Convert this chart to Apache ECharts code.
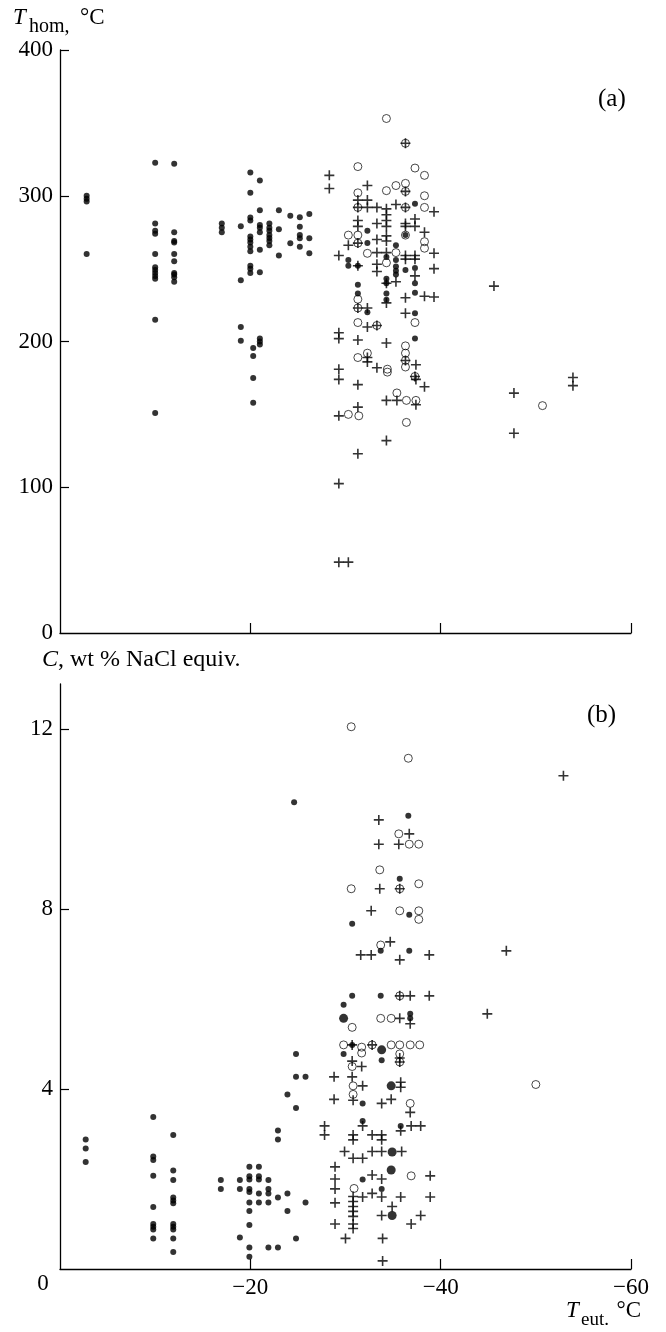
<!DOCTYPE html>
<html>
<head>
<meta charset="utf-8">
<script src="https://cdn.jsdelivr.net/npm/echarts@6/dist/echarts.min.js"></script>
<style>
  html, body { margin: 0; padding: 0; background: #fff; }
  #chart { width: 666px; height: 1332px; }
</style>
</head>
<body>
<div id="chart"></div>
<script>
// panel (a): homogenization temperature vs eutectic temperature
const aDots = [
  [-2.8, 300], [-2.8, 298], [-2.8, 296], [-2.8, 260],
  [-10, 322.6], [-10, 281], [-10, 276], [-10, 274], [-10, 260], [-10, 251], [-10, 249], [-10, 247], [-10, 245], [-10, 243], [-10, 215], [-10, 151],
  [-12, 322], [-12, 275], [-12, 269], [-12, 268], [-12, 260], [-12, 255], [-12, 247], [-12, 246], [-12, 244], [-12, 241],
  [-17, 281], [-17, 278], [-17, 275],
  [-19, 279], [-19, 242], [-19, 210], [-19, 200.5],
  [-20, 316], [-20, 302], [-20, 285], [-20, 283], [-20, 272], [-20, 270], [-20, 268], [-20, 265], [-20, 262], [-20, 252], [-20, 250], [-20, 247],
  [-20.3, 195.5], [-20.3, 190], [-20.3, 175], [-20.3, 158],
  [-21, 310.5], [-21, 290], [-21, 280], [-21, 278], [-21, 275], [-21, 263], [-21, 247.5], [-21, 202], [-21, 200], [-21, 198],
  [-22, 281], [-22, 278], [-22, 276], [-22, 273], [-22, 271], [-22, 269], [-22, 266],
  [-23, 290], [-23, 277], [-23, 259],
  [-24.2, 286.3], [-24.2, 267.4],
  [-25.2, 285.2], [-25.2, 278.8], [-25.2, 273], [-25.2, 270.8], [-25.2, 265],
  [-26.2, 287.5], [-26.2, 270.8], [-26.2, 260.5],
  [-37.3, 294.5], [-32.3, 276], [-32.3, 267.5], [-35.3, 266], [-34.3, 258], [-35.3, 256], [-30.3, 256], [-30.3, 252],
  [-31.3, 252], [-35.3, 251.5], [-35.3, 248.5], [-35.3, 246], [-36.3, 249], [-37.3, 250.5], [-31.3, 239], [-34.3, 243],
  [-37.3, 240], [-31.3, 233], [-34.3, 233], [-37.3, 233.5], [-34.3, 240], [-34.3, 228.6], [-32.3, 220], [-37.3, 219.4],
  [-37.3, 202], [-36.3, 273]
];
const aCircles = [
  [-34.3, 353], [-31.3, 320], [-37.3, 319], [-38.3, 314], [-35.3, 307], [-36.3, 308.5], [-34.3, 303.5], [-31.3, 302],
  [-38.3, 300], [-38.3, 292], [-30.3, 273], [-31.3, 273], [-36.3, 273], [-38.3, 268.5], [-38.3, 264], [-32.3, 260.5],
  [-35.3, 261], [-34.3, 254],
  [-36.3, 336], [-36.3, 303], [-31.3, 292], [-36.3, 292], [-31.3, 267.5],
  [-31.3, 229], [-31.3, 223], [-31.3, 213], [-33.3, 211], [-37.3, 213], [-36.3, 197], [-36.3, 192], [-32.3, 192],
  [-31.3, 189], [-36.3, 187], [-36.3, 182.5], [-34.4, 181], [-34.4, 179], [-37.3, 176], [-35.4, 164.7], [-36.4, 159.6],
  [-37.4, 159.6], [-30.3, 150], [-31.4, 149], [-36.4, 144.5],
  [-50.7, 156]
];
const aPluses = [
  [-36.3, 336], [-36.3, 303], [-31.3, 292], [-36.3, 292], [-31.3, 267.5],
  [-28.3, 314], [-28.3, 305], [-32.3, 307], [-31.3, 297], [-32.3, 297], [-32.3, 292], [-33.3, 292], [-34.3, 291],
  [-35.3, 294], [-39.3, 289], [-34.3, 287], [-34.3, 283], [-34.3, 279], [-31.3, 283], [-31.3, 279], [-33.3, 281],
  [-36.3, 281], [-36.3, 279], [-37.3, 284], [-37.3, 279], [-38.3, 275], [-30.3, 266], [-33.3, 270], [-34.3, 272.5],
  [-34.3, 269], [-33.3, 261], [-34.3, 261], [-36.3, 259], [-36.3, 256.5], [-37.3, 259], [-37.3, 256.5], [-29.3, 259],
  [-39.3, 260.5], [-31.3, 252], [-33.3, 253], [-33.3, 248], [-37.3, 245], [-39.3, 250], [-35.3, 241], [-34.3, 240],
  [-36.3, 230], [-38.3, 231], [-39.3, 230.5],
  [-34.3, 226.5], [-31.3, 223], [-32.3, 223], [-36.3, 219.4], [-32.3, 210], [-33.3, 211], [-29.3, 206], [-29.3, 202],
  [-31.3, 201], [-34.3, 199], [-32.3, 189], [-32.3, 186], [-36.3, 187], [-37.4, 184], [-33.3, 182], [-29.3, 181],
  [-29.3, 174], [-31.3, 170.4], [-37.3, 176], [-37.4, 174], [-38.3, 169], [-34.3, 159.6], [-35.4, 159.6], [-37.4, 156.6],
  [-31.3, 155], [-29.3, 149], [-34.3, 132], [-31.3, 123], [-29.3, 102.5], [-29.3, 48.6], [-30.3, 48.6],
  [-45.6, 238], [-47.7, 164.6], [-47.7, 137], [-53.9, 175.3], [-53.9, 169.7]
];

// panel (b): salinity vs eutectic temperature
const bDots = [
  [-2.7, 2.88], [-2.7, 2.68], [-2.7, 2.38],
  [-9.8, 3.38], [-9.8, 2.5], [-9.8, 2.42], [-9.8, 2.07], [-9.8, 1.38], [-9.8, 1.0], [-9.8, 0.94], [-9.8, 0.88], [-9.8, 0.68],
  [-11.9, 2.98], [-11.9, 2.19], [-11.9, 1.98], [-11.9, 1.59], [-11.9, 1.52], [-11.9, 1.46], [-11.9, 1.0], [-11.9, 0.94],
  [-11.9, 0.88], [-11.9, 0.68], [-11.9, 0.38],
  [-16.9, 1.98], [-16.9, 1.78],
  [-18.9, 1.98], [-18.9, 1.78], [-18.9, 0.7],
  [-19.9, 2.27], [-19.9, 2.06], [-19.9, 1.99], [-19.9, 1.78], [-19.9, 1.71], [-19.9, 1.48], [-19.9, 1.29], [-19.9, 0.98],
  [-19.9, 0.48], [-19.9, 0.27],
  [-20.9, 2.27], [-20.9, 2.06], [-20.9, 1.99], [-20.9, 1.68], [-20.9, 1.48],
  [-21.9, 1.98], [-21.9, 1.78], [-21.9, 1.68], [-21.9, 1.48], [-21.9, 0.48],
  [-22.9, 3.08], [-22.9, 2.88], [-22.9, 1.59], [-22.9, 0.48],
  [-23.9, 3.88], [-23.9, 1.68], [-23.9, 1.29],
  [-24.8, 4.78], [-24.8, 4.27], [-24.8, 3.58], [-24.8, 0.68], [-24.6, 10.37],
  [-25.8, 4.27], [-25.8, 1.48],
  [-36.6, 10.07], [-35.7, 8.67], [-36.7, 7.87], [-30.7, 7.67], [-33.7, 7.07], [-36.7, 7.07], [-30.7, 6.07], [-33.7, 6.07],
  [-29.8, 5.87], [-36.8, 5.67], [-36.8, 5.57], [-29.8, 4.78], [-33.8, 4.64], [-31.8, 3.68], [-31.8, 3.29], [-35.8, 3.18],
  [-31.8, 1.99], [-33.8, 1.78], [-30.7, 4.98]
];
const bBigDots = [
  [-29.8, 5.57], [-33.8, 4.87], [-34.8, 4.07], [-34.9, 2.6], [-34.8, 2.2], [-34.9, 1.19]
];
const bCircles = [
  [-30.6, 12.05], [-36.6, 11.35], [-35.6, 9.67], [-36.7, 9.44], [-37.7, 9.44], [-33.6, 8.87], [-35.7, 8.45], [-30.6, 8.45],
  [-37.7, 8.56], [-35.7, 7.96], [-37.7, 7.96], [-37.7, 7.77], [-33.7, 7.2], [-35.7, 6.07], [-30.7, 5.37], [-33.7, 5.57],
  [-34.8, 5.57], [-29.8, 4.98], [-31.7, 4.93], [-31.7, 4.8], [-32.8, 4.98], [-34.8, 4.98], [-35.7, 4.98], [-36.8, 4.98],
  [-37.8, 4.98], [-35.7, 4.78], [-35.7, 4.6], [-30.7, 4.5], [-30.8, 4.07], [-30.8, 3.88], [-36.8, 3.68], [-36.9, 2.07],
  [-30.9, 1.79], [-50, 4.1]
];
const bPluses = [
  [-52.9, 10.96], [-33.5, 9.98], [-36.7, 9.67], [-33.5, 9.44], [-35.6, 9.44], [-33.6, 8.45], [-35.7, 8.45], [-32.7, 7.96],
  [-34.7, 7.27], [-31.6, 6.98], [-32.7, 6.98], [-35.7, 6.87], [-38.8, 6.98], [-46.9, 7.07], [-35.7, 6.07], [-36.8, 6.07],
  [-38.8, 6.07], [-44.9, 5.67], [-35.7, 5.57], [-36.8, 5.45], [-30.7, 4.98], [-32.8, 4.98], [-35.7, 4.69], [-35.7, 4.6],
  [-30.7, 4.62], [-31.7, 4.5], [-28.8, 4.27], [-30.7, 4.27], [-31.8, 4.07], [-35.8, 4.15], [-35.8, 4.04],
  [-28.8, 3.77], [-30.8, 3.75], [-33.8, 3.68], [-34.8, 3.77], [-36.8, 3.48],
  [-31.8, 3.18], [-35.8, 3.07], [-36.9, 3.18], [-37.9, 3.18], [-27.8, 3.18], [-27.8, 2.98],
  [-30.8, 2.98], [-30.8, 2.87], [-32.8, 2.98], [-33.8, 2.98], [-33.8, 2.87],
  [-29.9, 2.61], [-30.8, 2.46], [-31.8, 2.46], [-32.8, 2.61], [-33.8, 2.61], [-35.9, 2.61],
  [-28.9, 2.27], [-32.8, 2.09], [-33.8, 2.0], [-38.9, 2.07], [-28.9, 2.0], [-28.9, 1.78],
  [-30.8, 1.61], [-30.8, 1.5], [-30.8, 1.39], [-30.8, 1.28], [-30.8, 1.17], [-30.8, 1.0], [-30.8, 0.9],
  [-31.8, 1.6], [-32.8, 1.68], [-33.8, 1.6], [-35.8, 1.6], [-38.9, 1.6], [-28.9, 1.47],
  [-34.9, 1.39], [-33.8, 1.19], [-37.9, 1.19], [-36.9, 1.0], [-28.9, 1.0],
  [-30.0, 0.68], [-33.9, 0.68], [-33.9, 0.18]
];

const xTicks = [-20, -40, -60];
const aYLabels = [0, 100, 200, 300, 400];
const bYLabels = [4, 8, 12];

const FONT = '"Liberation Serif", "DejaVu Serif", serif';
const PLUS = 'path://M4.2,0h1.6v4.2h4.2v1.6h-4.2v4.2h-1.6v-4.2h-4.2v-1.6h4.2z';

const chart = echarts.init(document.getElementById('chart'), null, { renderer: 'canvas' });

const xAxisBase = (gridIndex, showLabels) => ({
  type: 'value',
  gridIndex,
  min: -60,
  max: 0,
  interval: 20,
  inverse: true,
  axisLine: { onZero: false, lineStyle: { color: '#000', width: 1.3 } },
  axisTick: { inside: true, length: 10, customValues: xTicks, lineStyle: { color: '#000', width: 1.2 } },
  axisLabel: {
    show: showLabels,
    customValues: xTicks,
    margin: 7,
    color: '#000',
    fontFamily: FONT,
    fontSize: 23,
    formatter: v => '\u2212' + Math.abs(v)
  },
  splitLine: { show: false }
});

const yAxisBase = (gridIndex, max, ticks) => ({
  type: 'value',
  gridIndex,
  min: 0,
  max,
  axisLine: { onZero: false, lineStyle: { color: '#000', width: 1.3 } },
  axisTick: { inside: true, length: 9, customValues: ticks.filter(v => v > 0), lineStyle: { color: '#000', width: 1.2 } },
  axisLabel: { customValues: ticks, margin: 7, color: '#000', fontFamily: FONT, fontSize: 23 },
  splitLine: { show: false }
});

const scatter = (data, xi, kind) => {
  const s = {
    type: 'scatter',
    xAxisIndex: xi,
    yAxisIndex: xi,
    data,
    silent: true,
    animation: false
  };
  if (kind === 'dot') {
    s.symbol = 'circle'; s.symbolSize = 6; s.itemStyle = { color: '#000' };
  } else if (kind === 'big') {
    s.symbol = 'circle'; s.symbolSize = 9; s.itemStyle = { color: '#000' };
  } else if (kind === 'circle') {
    s.symbol = 'circle'; s.symbolSize = 8;
    s.itemStyle = { color: 'rgba(0,0,0,0)', borderColor: '#000', borderWidth: 0.9 };
  } else {
    s.symbol = PLUS; s.symbolSize = 10; s.itemStyle = { color: '#000' };
  }
  return s;
};

// text placed by its vertical centre
const txt = (x, y, text, opts = {}) => ({
  type: 'text',
  x, y,
  style: {
    text,
    font: (opts.italic ? 'italic ' : '') + (opts.size || 24) + 'px ' + FONT,
    fill: '#000',
    align: opts.align || 'left',
    verticalAlign: 'middle'
  }
});

const option = {
  backgroundColor: '#fff',
  animation: false,
  grid: [
    { left: 60, right: 35, top: 50, bottom: 699 },
    { left: 60, right: 35, top: 684, bottom: 63 }
  ],
  xAxis: [xAxisBase(0, false), xAxisBase(1, true)],
  yAxis: [
    Object.assign(yAxisBase(0, 400, aYLabels), { interval: 100 }),
    Object.assign(yAxisBase(1, 13, bYLabels), { interval: 4 })
  ],
  graphic: [
    txt(13, 18, 'T', { italic: true, size: 23 }),
    txt(29, 27, 'hom,', { size: 20 }),
    txt(80, 18, '\u00b0C', { size: 23 }),
    txt(598, 99, '(a)', { size: 25 }),
    txt(42, 660, 'C', { italic: true }),
    txt(58, 660, ', wt % NaCl equiv.'),
    txt(587, 715, '(b)', { size: 25 }),
    txt(43, 1284, '0', { align: 'center', size: 23 }),
    txt(566, 1311, 'T', { italic: true, size: 23 }),
    txt(581, 1320, 'eut.', { size: 19 }),
    txt(641, 1311, '\u00b0C', { align: 'right', size: 23 })
  ],
  series: [
    scatter(aCircles, 0, 'circle'),
    scatter(aDots, 0, 'dot'),
    scatter(aPluses, 0, 'plus'),
    scatter(bCircles, 1, 'circle'),
    scatter(bDots, 1, 'dot'),
    scatter(bBigDots, 1, 'big'),
    scatter(bPluses, 1, 'plus')
  ]
};

chart.setOption(option);
</script>
</body>
</html>
